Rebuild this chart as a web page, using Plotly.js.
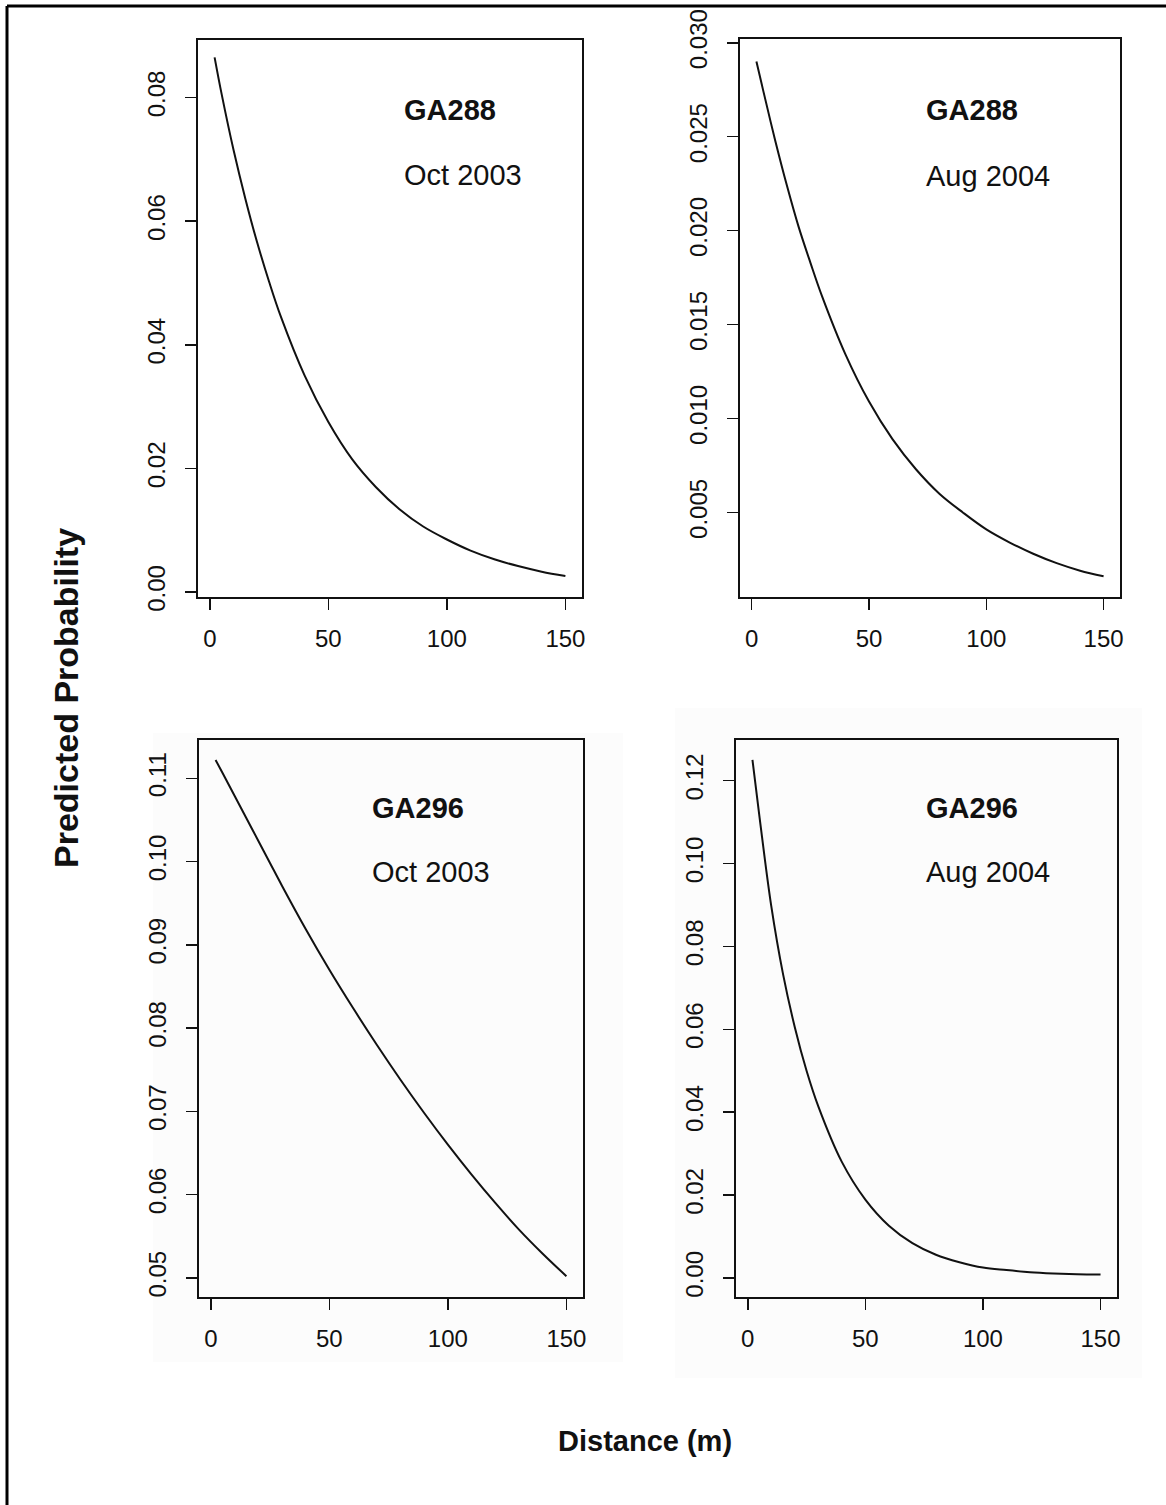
<!DOCTYPE html>
<html>
<head>
<meta charset="utf-8">
<script src="https://cdn.plot.ly/plotly-3.0.1.min.js"></script>
<style>
  html, body { margin: 0; padding: 0; background: #ffffff; }
  #chart { width: 1166px; height: 1505px; }
</style>
</head>
<body>
<div id="chart"></div>
<script>
// ---- Data ----
const distance = [2, 5, 10, 15, 20, 25, 30, 40, 50, 60, 70, 80, 90, 100, 110, 120, 130, 140, 150];

const ga288_oct2003 = [0.0865, 0.0805, 0.0715, 0.0636, 0.0565, 0.0502, 0.0445, 0.0350, 0.0275, 0.0215, 0.0170, 0.0134, 0.0106, 0.0085, 0.0067, 0.0053, 0.0042, 0.0033, 0.0026];
const ga288_aug2004 = [0.0290, 0.0274, 0.0248, 0.0224, 0.0202, 0.0183, 0.0165, 0.0134, 0.0109, 0.0089, 0.0073, 0.0060, 0.0050, 0.0041, 0.0034, 0.0028, 0.0023, 0.0019, 0.0016];
const ga296_oct2003 = [0.1122, 0.1106, 0.1079, 0.1052, 0.1025, 0.0998, 0.0971, 0.0919, 0.0870, 0.0824, 0.0780, 0.0738, 0.0698, 0.0660, 0.0624, 0.0590, 0.0558, 0.0529, 0.0502];
const ga296_aug2004 = [0.1250, 0.1112, 0.0897, 0.0733, 0.0605, 0.0500, 0.0414, 0.0280, 0.0189, 0.0126, 0.0084, 0.0056, 0.0038, 0.0025, 0.0019, 0.0014, 0.0011, 0.0009, 0.0008];

const siteLabels = ["GA288", "GA288", "GA296", "GA296"];
const dateLabels = ["Oct 2003", "Aug 2004", "Oct 2003", "Aug 2004"];

const xTicks = [0, 50, 100, 150];
const yTicks1 = [0.00, 0.02, 0.04, 0.06, 0.08];
const yTicks2 = [0.005, 0.010, 0.015, 0.020, 0.025, 0.030];
const yTicks3 = [0.05, 0.06, 0.07, 0.08, 0.09, 0.10, 0.11];
const yTicks4 = [0.00, 0.02, 0.04, 0.06, 0.08, 0.10, 0.12];

const xTitle = "Distance (m)";
const yTitle = "Predicted Probability";

// ---- Layout geometry (pixels) ----
const W = 1166, H = 1505;
const boxes = [
  [198, 582, 40, 597],
  [740, 1120, 39, 597],
  [199, 583, 740, 1297],
  [736, 1117, 740, 1297]
];
const yRanges = [[-0.0008, 0.0893], [0.0005, 0.0302], [0.0477, 0.1146], [-0.0046, 0.1298]];
const yTickSets = [yTicks1, yTicks2, yTicks3, yTicks4];
const yFormats = [".2f", ".3f", ".2f", ".2f"];
const series = [ga288_oct2003, ga288_aug2004, ga296_oct2003, ga296_aug2004];
const labelPos = [[0.531, 0.874, 0.758], [0.484, 0.873, 0.754], [0.445, 0.878, 0.763], [0.493, 0.878, 0.763]];

const FONT = "Liberation Sans, Arial, Helvetica, sans-serif";

const traces = [];
const layout = {
  width: W, height: H,
  margin: {l: 0, r: 0, t: 0, b: 0},
  paper_bgcolor: "#ffffff",
  plot_bgcolor: "rgba(0,0,0,0)",
  showlegend: false,
  annotations: [],
  shapes: []
};

for (let i = 0; i < 4; i++) {
  const n = i === 0 ? "" : String(i + 1);
  const [l, r, t, b] = boxes[i];
  traces.push({
    type: "scatter", mode: "lines",
    x: distance, y: series[i],
    xaxis: "x" + n, yaxis: "y" + n,
    line: {color: "#111111", width: 2, shape: "spline", smoothing: 1},
    hoverinfo: "skip"
  });
  const common = {
    showline: true, mirror: true, linecolor: "#111111", linewidth: 2,
    ticks: "outside", ticklen: 11, tickwidth: 1.5, tickcolor: "#111111",
    showgrid: false, zeroline: false,
    tickfont: {family: FONT, size: 24, color: "#111111"}
  };
  layout["xaxis" + n] = Object.assign({}, common, {
    domain: [l / W, r / W],
    range: [-5, 157],
    tickmode: "array", tickvals: xTicks,
    ticktext: xTicks.map(String),
    ticklabelstandoff: 8,
    anchor: "y" + n
  });
  layout["yaxis" + n] = Object.assign({}, common, {
    domain: [1 - b / H, 1 - t / H],
    range: yRanges[i],
    tickmode: "array", tickvals: yTickSets[i],
    tickformat: yFormats[i],
    tickangle: -90,
    ticklabelstandoff: 10,
    anchor: "x" + n
  });
  const [ax, ay1, ay2] = labelPos[i];
  layout.annotations.push({
    xref: "x" + n + " domain", yref: "y" + n + " domain",
    x: ax, y: ay1, xanchor: "left", yanchor: "middle",
    text: "<b>" + siteLabels[i] + "</b>", showarrow: false,
    font: {family: FONT, size: 29, color: "#111111"}
  });
  layout.annotations.push({
    xref: "x" + n + " domain", yref: "y" + n + " domain",
    x: ax, y: ay2, xanchor: "left", yanchor: "middle",
    text: dateLabels[i], showarrow: false,
    font: {family: FONT, size: 29, color: "#111111"}
  });
}

// Axis titles
layout.annotations.push({
  xref: "paper", yref: "paper", x: 66 / W, y: 1 - 698 / H,
  xanchor: "center", yanchor: "middle", textangle: -90,
  text: "<b>" + yTitle + "</b>", showarrow: false,
  font: {family: FONT, size: 34, color: "#111111"}
});
layout.annotations.push({
  xref: "paper", yref: "paper", x: 645 / W, y: 1 - 1441 / H,
  xanchor: "center", yanchor: "middle",
  text: "<b>" + xTitle + "</b>", showarrow: false,
  font: {family: FONT, size: 29, color: "#111111"}
});

// Faint scan shading behind bottom panels, and the outer frame
layout.shapes.push({type: "rect", xref: "paper", yref: "paper", layer: "below",
  x0: 153 / W, x1: 623 / W, y0: 1 - 1362 / H, y1: 1 - 733 / H,
  fillcolor: "rgba(0,0,0,0.012)", line: {width: 0}});
layout.shapes.push({type: "rect", xref: "paper", yref: "paper", layer: "below",
  x0: 675 / W, x1: 1142 / W, y0: 1 - 1378 / H, y1: 1 - 708 / H,
  fillcolor: "rgba(0,0,0,0.012)", line: {width: 0}});
layout.shapes.push({type: "line", xref: "paper", yref: "paper",
  x0: 7 / W, x1: 1, y0: 1 - 6 / H, y1: 1 - 6 / H, line: {color: "#000000", width: 3}});
layout.shapes.push({type: "line", xref: "paper", yref: "paper",
  x0: 7 / W, x1: 7 / W, y0: 0, y1: 1 - 6 / H, line: {color: "#000000", width: 3}});

Plotly.newPlot("chart", traces, layout, {staticPlot: true, displayModeBar: false});
</script>
</body>
</html>
